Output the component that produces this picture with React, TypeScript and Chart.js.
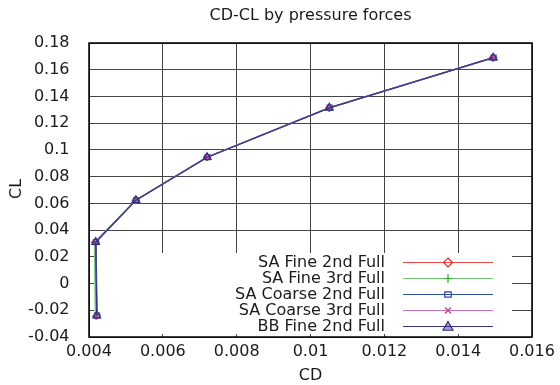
import { useEffect, useRef } from 'react';
import { Chart, registerables } from 'chart.js';

Chart.register(...registerables);

const seriesNames = ['SA Fine 2nd Full', 'SA Fine 3rd Full', 'SA Coarse 2nd Full', 'SA Coarse 3rd Full', 'BB Fine 2nd Full'];

const cdFine2nd = [0.00421, 0.00418, 0.00527, 0.00720, 0.01051, 0.01495];
const clFine2nd = [-0.0240, 0.0310, 0.0624, 0.0945, 0.1315, 0.1690];
const cdFine3rd = [0.00417, 0.00415, 0.00526, 0.00719, 0.01050, 0.01494];
const clFine3rd = [-0.0243, 0.0308, 0.0623, 0.0944, 0.1314, 0.1689];
const cdCoarse2nd = [0.00422, 0.00419, 0.00528, 0.00721, 0.01052, 0.01496];
const clCoarse2nd = [-0.0239, 0.0311, 0.0625, 0.0946, 0.1316, 0.1691];
const cdCoarse3rd = [0.00420, 0.00417, 0.00527, 0.00720, 0.01051, 0.01495];
const clCoarse3rd = [-0.0241, 0.0309, 0.0624, 0.0945, 0.1315, 0.1690];
const cdBBFine2nd = [0.00421, 0.00418, 0.00527, 0.00720, 0.01051, 0.01495];
const clBBFine2nd = [-0.0240, 0.0310, 0.0624, 0.0945, 0.1315, 0.1690];

const xTickValues = [0.004, 0.006, 0.008, 0.01, 0.012, 0.014, 0.016];
const xTickLabels = ['0.004', '0.006', '0.008', '0.01', '0.012', '0.014', '0.016'];
const yTickValues = [-0.04, -0.02, 0, 0.02, 0.04, 0.06, 0.08, 0.1, 0.12, 0.14, 0.16, 0.18];
const yTickLabels = ['-0.04', '-0.02', '0', '0.02', '0.04', '0.06', '0.08', '0.1', '0.12', '0.14', '0.16', '0.18'];

const cdSeries = [cdFine2nd, cdFine3rd, cdCoarse2nd, cdCoarse3rd, cdBBFine2nd];
const clSeries = [clFine2nd, clFine3rd, clCoarse2nd, clCoarse3rd, clBBFine2nd];

const lineColors = ['#f04848', '#70c870', '#3050a8', '#d070c0', '#383888'];
const markerColors = ['#e82828', '#30a830', '#2848a8', '#c040a0', '#303080'];
const markerStyles = ['rectRot', 'cross', 'rect', 'crossRot', 'triangle'];

const FONT = '"DejaVu Sans", sans-serif';
const TEXT = '#1a1a1a';

function drawMarker(ctx: CanvasRenderingContext2D, style: string, x: number, y: number, color: string) {
  ctx.save();
  ctx.strokeStyle = color;
  ctx.lineWidth = 1.2;
  ctx.beginPath();
  if (style === 'rectRot') {
    const r = 4.5;
    ctx.moveTo(x, y - r); ctx.lineTo(x + r, y); ctx.lineTo(x, y + r); ctx.lineTo(x - r, y); ctx.closePath();
    ctx.stroke();
  } else if (style === 'cross') {
    const r = 4.5;
    ctx.moveTo(x - r, y); ctx.lineTo(x + r, y); ctx.moveTo(x, y - r); ctx.lineTo(x, y + r);
    ctx.stroke();
  } else if (style === 'rect') {
    const r = 3.2;
    ctx.rect(x - r, y - r * 0.8, 2 * r, 1.6 * r);
    ctx.stroke();
  } else if (style === 'crossRot') {
    const r = 3;
    ctx.moveTo(x - r, y - r); ctx.lineTo(x + r, y + r); ctx.moveTo(x - r, y + r); ctx.lineTo(x + r, y - r);
    ctx.stroke();
  } else if (style === 'triangle') {
    const r = 5;
    ctx.moveTo(x, y - r); ctx.lineTo(x + r, y + r * 0.75); ctx.lineTo(x - r, y + r * 0.75); ctx.closePath();
    ctx.fillStyle = 'rgba(48,48,128,0.45)';
    ctx.fill();
    ctx.stroke();
  }
  ctx.restore();
}

const decorPlugin = {
  id: 'decor',
  beforeDatasetsDraw(chart: any) {
    const { ctx, chartArea: a } = chart;
    ctx.save();
    ctx.fillStyle = '#ffffff';
    const top = a.bottom - 84;
    ctx.fillRect(a.left + 5, top, a.right - 20 - (a.left + 5), a.bottom - 3 - top);
    ctx.restore();
  },
  afterDatasetsDraw(chart: any) {
    const { ctx, chartArea: a } = chart;
    ctx.save();
    // legend
    ctx.font = '16px ' + FONT;
    ctx.fillStyle = TEXT;
    ctx.textAlign = 'right';
    ctx.textBaseline = 'middle';
    const textRight = a.right - 147;
    const lineL = a.right - 129;
    const lineR = a.right - 39;
    const markX = a.right - 84;
    seriesNames.forEach((name, i) => {
      const y = a.bottom - 75.5 + i * 16.2;
      ctx.fillStyle = TEXT;
      ctx.fillText(name, textRight, y + 1);
      ctx.strokeStyle = lineColors[i];
      ctx.lineWidth = 1;
      ctx.beginPath();
      ctx.moveTo(lineL, Math.round(y) + 0.5);
      ctx.lineTo(lineR, Math.round(y) + 0.5);
      ctx.stroke();
      drawMarker(ctx, markerStyles[i], markX, Math.round(y) + 0.5, markerColors[i]);
    });
    // border
    ctx.strokeStyle = '#000';
    ctx.lineWidth = 1.5;
    ctx.strokeRect(a.left, a.top, a.right - a.left, a.bottom - a.top);
    // title
    ctx.fillStyle = TEXT;
    ctx.textAlign = 'center';
    ctx.textBaseline = 'middle';
    ctx.font = '16px ' + FONT;
    ctx.fillText('CD-CL by pressure forces', (a.left + a.right) / 2, 16);
    ctx.fillText('CD', (a.left + a.right) / 2, 376);
    ctx.translate(16.5, (a.top + a.bottom) / 2 - 1);
    ctx.rotate(-Math.PI / 2);
    ctx.fillText('CL', 0, 0);
    ctx.restore();
  },
};

export default function App() {
  const ref = useRef<HTMLCanvasElement | null>(null);
  useEffect(() => {
    document.body.style.margin = '0';
    const canvas = ref.current;
    if (!canvas) return;
    const datasets = seriesNames.map((name, i) => ({
      label: name,
      data: cdSeries[i].map((x, j) => ({ x, y: clSeries[i][j] })),
      showLine: true,
      borderColor: lineColors[i],
      borderWidth: 1.3,
      pointStyle: markerStyles[i] as any,
      pointRadius: i === 4 ? 4.5 : 3.5,
      pointBorderColor: markerColors[i],
      pointBackgroundColor: 'rgba(0,0,0,0)',
      pointBorderWidth: 1.2,
      order: seriesNames.length - 1 - i,
    }));
    const chart = new Chart(canvas, {
      type: 'scatter',
      data: { datasets },
      plugins: [decorPlugin],
      options: {
        animation: false,
        responsive: false,
        devicePixelRatio: 1,
        layout: { padding: { top: 43, right: 28, left: 0, bottom: 0 } },
        plugins: { legend: { display: false }, tooltip: { enabled: false }, title: { display: false } },
        scales: {
          x: {
            type: 'linear',
            min: 0.004,
            max: 0.016,
            afterBuildTicks: (s: any) => { s.ticks = xTickValues.map((v) => ({ value: v })); },
            afterFit: (s: any) => { s.height = 48; },
            ticks: {
              callback: (_v: any, i: number) => xTickLabels[i],
              font: { family: FONT, size: 16 },
              color: TEXT,
              padding: 5,
              maxRotation: 0,
              autoSkip: false,
            },
            grid: { color: '#444', lineWidth: 1, drawTicks: false },
            border: { display: false },
          },
          y: {
            type: 'linear',
            min: -0.04,
            max: 0.18,
            afterBuildTicks: (s: any) => { s.ticks = yTickValues.map((v) => ({ value: v })); },
            afterFit: (s: any) => { s.width = 89; },
            ticks: {
              callback: (_v: any, i: number) => yTickLabels[i],
              font: { family: FONT, size: 16 },
              color: TEXT,
              padding: 19.5,
              autoSkip: false,
            },
            grid: { color: '#444', lineWidth: 1, drawTicks: false },
            border: { display: false },
          },
        },
      },
    });
    return () => chart.destroy();
  }, []);
  return (
    <div style={{ width: 560, height: 385 }}>
      <canvas ref={ref} width={560} height={385} style={{ display: 'block' }} />
    </div>
  );
}
